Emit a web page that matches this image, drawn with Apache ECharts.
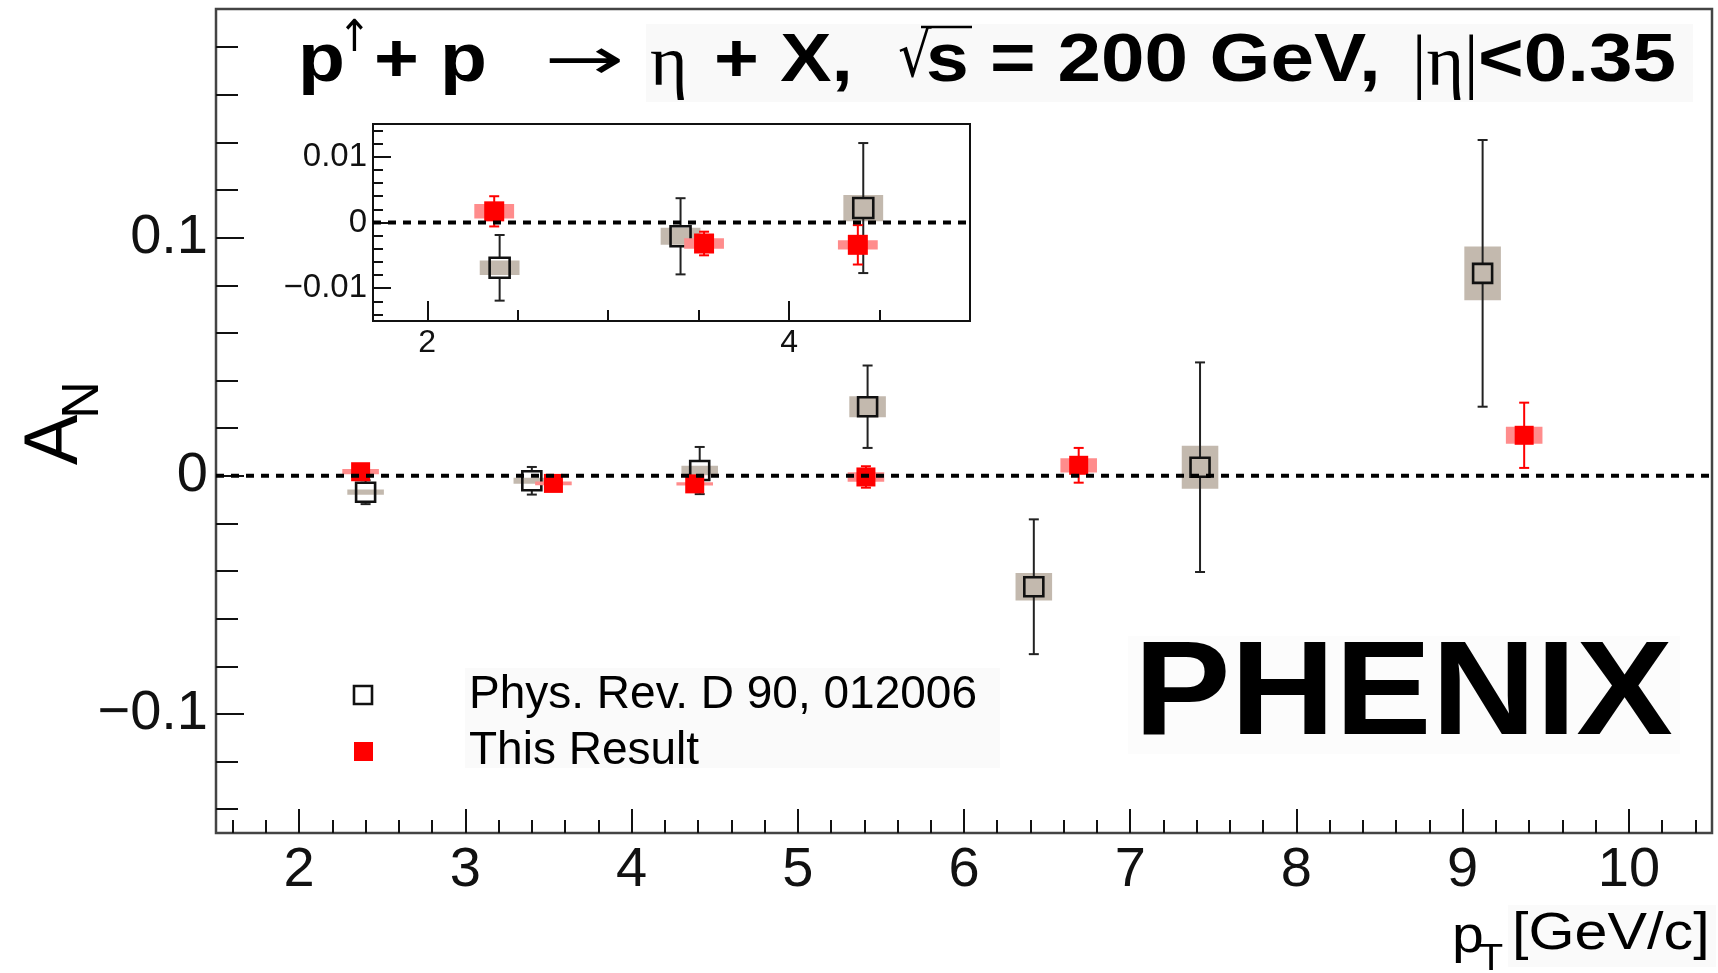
<!DOCTYPE html>
<html>
<head>
<meta charset="utf-8">
<script src="https://cdn.jsdelivr.net/npm/echarts@6/dist/echarts.min.js"></script>
<style>
  html, body { margin: 0; padding: 0; background: #fff; }
  #chart { width: 1718px; height: 973px; }
</style>
</head>
<body>
<div id="chart"></div>
<script>
// ---- data: eta meson A_N vs pT ----
// previous PHENIX measurement (Phys. Rev. D 90, 012006)
const prdPt   = [2.40, 3.40, 4.41, 5.42, 6.42, 7.42, 9.12];
const prdAN   = [-0.0069, -0.0021, 0.0022, 0.0290, -0.0466, 0.0036, 0.0850];
const prdStat = [0.0050, 0.0058, 0.0099, 0.0173, 0.0283, 0.0440, 0.0560];
const prdSys  = [0.0011, 0.0013, 0.0020, 0.0044, 0.0058, 0.0090, 0.0113];

// this result
const newPt   = [2.37, 3.53, 4.38, 5.41, 6.69, 9.37];
const newAN   = [0.0017, -0.0032, -0.0034, -0.0005, 0.0044, 0.0170];
const newStat = [0.0023, 0.0018, 0.0030, 0.0045, 0.0073, 0.0137];
const newSys  = [0.0011, 0.0008, 0.0007, 0.0020, 0.0030, 0.0036];

// axis ticks
const xMajor = [2, 3, 4, 5, 6, 7, 8, 9, 10];
const yMajor = [-0.1, 0, 0.1];
const insetXMajor = [2, 4];
const insetYMajor = [-0.01, 0, 0.01];
const legendLabels = ['Phys. Rev. D 90, 012006', 'This Result'];

// ---- helpers ----
function minorTicks(from, to, step, every) {
  const out = [];
  for (let i = from; i <= to; i++) if (i % every !== 0) out.push(+(i * step).toFixed(6));
  return out;
}
const xMinor = minorTicks(8, 52, 0.2, 5);           // 1.6 ... 10.4
const yMinor = minorTicks(-7, 9, 0.02, 5);          // -0.14 ... 0.18
const insetXMinor = minorTicks(4, 9, 0.5, 4);       // 2.5, 3, 3.5, 4.5
const insetYMinor = minorTicks(-7, 7, 0.002, 5);    // -0.014 ... 0.014

const MAIN_X = [1.5, 10.5], MAIN_Y = [-0.15, 0.196];
const INSET_X = [1.7, 5.0], INSET_Y = [-0.015, 0.015];
const BOX_HALF = 0.11;   // half width of the systematic boxes in pT

const FONT = '"Liberation Sans", Arial, Helvetica, sans-serif';

function rows(pt, an, st, sy, range) {
  return pt.map((p, i) => [p, an[i], st[i], sy[i]])
           .filter(r => !range || (r[0] > range[0] && r[0] < range[1]));
}

function fmtY(v) {
  if (Math.abs(v) < 1e-12) return '0';
  return (v < 0 ? '\u2212' : '') + String(+Math.abs(v).toFixed(4));
}

function makeRender(st) {
  return function (params, api) {
    const x = api.value(0), y = api.value(1), e = api.value(2), s = api.value(3);
    const c = api.coord([x, y]);
    const b0 = api.coord([x - BOX_HALF, y + s]);
    const b1 = api.coord([x + BOX_HALF, y - s]);
    const top = api.coord([x, y + e])[1];
    const bot = api.coord([x, y - e])[1];
    const h = st.size / 2;
    const ls = { stroke: st.bar, lineWidth: st.barWidth };
    const kids = [{
      type: 'rect',
      shape: { x: b0[0], y: b0[1], width: b1[0] - b0[0], height: b1[1] - b0[1] },
      style: { fill: st.box }
    }];
    if (st.hollow) {
      if (top < c[1] - h) kids.push({ type: 'line', shape: { x1: c[0], y1: top, x2: c[0], y2: c[1] - h }, style: ls });
      if (bot > c[1] + h) kids.push({ type: 'line', shape: { x1: c[0], y1: c[1] + h, x2: c[0], y2: bot }, style: ls });
    } else {
      kids.push({ type: 'line', shape: { x1: c[0], y1: top, x2: c[0], y2: bot }, style: ls });
    }
    kids.push({ type: 'line', shape: { x1: c[0] - st.cap, y1: top, x2: c[0] + st.cap, y2: top }, style: ls });
    kids.push({ type: 'line', shape: { x1: c[0] - st.cap, y1: bot, x2: c[0] + st.cap, y2: bot }, style: ls });
    kids.push({
      type: 'rect',
      shape: { x: c[0] - h, y: c[1] - h, width: 2 * h, height: 2 * h },
      style: st.hollow ? { fill: 'none', stroke: '#111', lineWidth: st.markLine }
                       : { fill: st.mark }
    });
    return { type: 'group', children: kids };
  };
}

const prdStyle = (size) => ({ box: '#c3b9ae', bar: '#222', barWidth: 2, cap: 5, size, hollow: true, markLine: 2.6 });
const newStyle = (size) => ({ box: '#ff8c8c', bar: '#ff0000', barWidth: 2, cap: 5, size, hollow: false, mark: '#ff0000' });

function axisPair(dim, grid, range, major, minor, majLen, minLen, label) {
  const common = {
    gridIndex: grid, type: 'value', min: range[0], max: range[1],
    position: dim === 'x' ? 'bottom' : 'left',
    axisLine: { show: false, onZero: false }, splitLine: { show: false }
  };
  return [
    Object.assign({}, common, {
      axisTick: { show: true, inside: true, length: majLen, customValues: major, lineStyle: { color: '#111', width: 2 } },
      axisLabel: Object.assign({ show: true, customValues: major, color: '#111', fontFamily: FONT }, label)
    }),
    Object.assign({}, common, {
      axisTick: { show: true, inside: true, length: minLen, customValues: minor, lineStyle: { color: '#111', width: 2 } },
      axisLabel: { show: false }
    })
  ];
}

function txt(text, x, y, size, o) {
  o = o || {};
  return {
    type: 'text', x: x, y: y, scaleX: o.sx || 1, rotation: o.rot || 0, z: 100,
    style: {
      text: text, fill: o.color || '#000',
      font: (o.weight || 'normal') + ' ' + size + 'px ' + (o.family || FONT),
      align: o.align || 'left', verticalAlign: 'middle'
    }
  };
}

const SERIF = '"Liberation Serif", "DejaVu Serif", serif';
const SYM = '"DejaVu Sans", sans-serif';
const TY = 62;          // title text centre line
const TS = 68;          // title font size
const TSX = 1.13;       // title horizontal scale

const graphics = [
  // faint panel behind the title
  { type: 'rect', z: 90, shape: { x: 646, y: 24, width: 1047, height: 78 }, style: { fill: '#f9f9f9' } },
  txt('p', 298, TY, TS, { weight: 'bold', sx: TSX }),
  txt('\u2191', 338, 40, 44, { family: SYM, sx: 0.9 }),
  txt('+', 374, TY, TS, { weight: 'bold', sx: TSX }),
  txt('p', 440, TY, TS, { weight: 'bold', sx: TSX }),
  txt('\u2192', 544, TY + 2, 58, { family: SYM, sx: 1.65 }),
  txt('\u03b7', 650, TY + 4, 72, { family: SERIF }),
  txt('+ X,', 714, TY, TS, { weight: 'bold', sx: TSX }),
  txt('\u221a', 898, TY - 2, 62, { family: SYM, sx: 0.85 }),
  { type: 'line', z: 100, shape: { x1: 921, y1: 27, x2: 972, y2: 27 }, style: { stroke: '#000', lineWidth: 2.5 } },
  txt('s', 926, TY, TS, { weight: 'bold', sx: TSX }),
  txt('= 200 GeV,', 990, TY, TS, { weight: 'bold', sx: TSX + 0.02 }),
  txt('|\u03b7|', 1412, TY + 4, 72, { family: SERIF }),
  txt('<0.35', 1478, TY, TS, { weight: 'bold', sx: TSX + 0.02 }),

  // y-axis title A_N (rotated)
  txt('A', 56, 440, 76, { rot: Math.PI / 2, align: 'center' }),
  txt('N', 84, 400, 52, { rot: Math.PI / 2, align: 'center' }),

  // x-axis title pT [GeV/c]
  { type: 'rect', z: 90, shape: { x: 1508, y: 905, width: 208, height: 62 }, style: { fill: '#fafafa' } },
  txt('p', 1452, 938, 52, { sx: 1.1 }),
  txt('T', 1479, 960, 36, { sx: 1.1 }),
  txt('[GeV/c]', 1512, 935, 52, { sx: 1.14 }),

  // legend
  { type: 'rect', z: 90, shape: { x: 465, y: 668, width: 535, height: 100 }, style: { fill: '#fafafa' } },
  { type: 'rect', z: 100, shape: { x: 354, y: 686, width: 18, height: 18 }, style: { fill: '#fff', stroke: '#111', lineWidth: 2.6 } },
  { type: 'rect', z: 100, shape: { x: 354, y: 742, width: 19, height: 19 }, style: { fill: '#ff0000' } },
  txt(legendLabels[0], 469, 695, 46),
  txt(legendLabels[1], 469, 751, 46),

  // experiment label
  { type: 'rect', z: 90, shape: { x: 1128, y: 636, width: 552, height: 118 }, style: { fill: '#fcfcfc' } },
  txt('PHENIX', 1134, 697, 134, { weight: 'bold', sx: 1.08 })
];

const xMain = axisPair('x', 0, MAIN_X, xMajor, xMinor, 24, 13, { fontSize: 56, margin: 10 });
const yMain = axisPair('y', 0, MAIN_Y, yMajor, yMinor, 28, 22, { fontSize: 56, margin: 8, formatter: fmtY });
const xIns  = axisPair('x', 1, INSET_X, insetXMajor, insetXMinor, 20, 11, { fontSize: 32, margin: 6 });
const yIns  = axisPair('y', 1, INSET_Y, insetYMajor, insetYMinor, 18, 10, { fontSize: 33, margin: 6, formatter: fmtY });

const zeroLine = (xi, yi, range) => ({
  type: 'line', xAxisIndex: xi, yAxisIndex: yi, data: [[range[0], 0], [range[1], 0]],
  symbol: 'none', silent: true, z: 6, animation: false,
  lineStyle: { color: '#000', width: 4, type: [8, 7] }
});

const option = {
  backgroundColor: '#fff',
  animation: false,
  grid: [
    { left: 216, top: 9, width: 1496, height: 824, show: true, borderColor: '#444', borderWidth: 2.5, backgroundColor: 'transparent' },
    { left: 373, top: 124, width: 597, height: 197, show: true, borderColor: '#111', borderWidth: 2, backgroundColor: '#fff' }
  ],
  xAxis: [...xMain, ...xIns],
  yAxis: [...yMain, ...yIns],
  graphic: graphics,
  series: [
    { type: 'custom', name: legendLabels[0], xAxisIndex: 0, yAxisIndex: 0, z: 3, clip: true,
      data: rows(prdPt, prdAN, prdStat, prdSys), encode: { x: 0, y: 1 }, renderItem: makeRender(prdStyle(19)) },
    { type: 'custom', name: legendLabels[1], xAxisIndex: 0, yAxisIndex: 0, z: 4, clip: true,
      data: rows(newPt, newAN, newStat, newSys), encode: { x: 0, y: 1 }, renderItem: makeRender(newStyle(19)) },
    zeroLine(0, 0, MAIN_X),
    { type: 'custom', name: legendLabels[0], xAxisIndex: 2, yAxisIndex: 2, z: 3, clip: true,
      data: rows(prdPt, prdAN, prdStat, prdSys, INSET_X), encode: { x: 0, y: 1 }, renderItem: makeRender(prdStyle(20)) },
    { type: 'custom', name: legendLabels[1], xAxisIndex: 2, yAxisIndex: 2, z: 4, clip: true,
      data: rows(newPt, newAN, newStat, newSys, INSET_X), encode: { x: 0, y: 1 }, renderItem: makeRender(newStyle(20)) },
    zeroLine(2, 2, INSET_X)
  ]
};

const chart = echarts.init(document.getElementById('chart'), null, { renderer: 'canvas' });
chart.setOption(option);
</script>
</body>
</html>
